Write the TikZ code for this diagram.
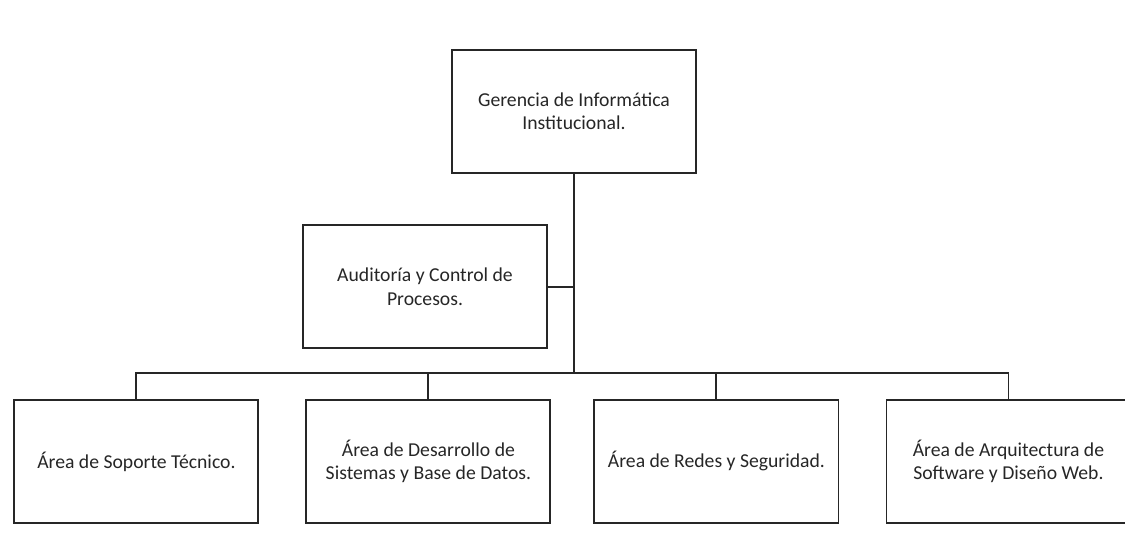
\documentclass[tikz,border=0pt]{standalone}
\usepackage{fontspec}
\setmainfont{Carlito}
\usetikzlibrary{positioning, calc}

\begin{document}
\begin{tikzpicture}[
          unit/.style={rectangle, draw=black!85, line width=1.3pt, minimum width=6.1cm,
                       minimum height=3.07cm, inner sep=2pt, align=center,
                       font=\fontsize{14}{16.8}\selectfont, text=black!85},
          link/.style={draw=black!85, line width=1.3pt}
        ]
        \useasboundingbox (0,0) rectangle (28.125,13.875);

        \node[unit] (ger) at (14.35,11.09)
              {Gerencia de Informática\\Institucional.};
        \node[unit] (aud) at (10.625,6.71)
              {Auditoría y Control de\\Procesos.};

        \node[unit] (sop) at (3.41,2.34)
              {Área de Soporte Técnico.};
        \node[unit] (des) at (10.71,2.34)
              {Área de Desarrollo de\\Sistemas y Base de Datos.};
        \node[unit] (red) at (17.91,2.34)
              {Área de Redes y Seguridad.};
        \node[unit] (arq) at (25.21,2.34)
              {Área de Arquitectura de\\Software y Diseño Web.};

        % main trunk and staff branch
        \coordinate (bus) at ($(ger.south |- 0,4.54)$);
        \draw[link] (ger.south) -- (bus);
        \draw[link] (aud.east) -- (aud.east -| ger.south);

        % distribution bar
        \draw[link] (sop.north) |- (bus) -| (arq.north);
        \foreach \n in {des, red}
          \draw[link] (\n.north) -- (\n.north |- bus);
      \end{tikzpicture}
\end{document}
